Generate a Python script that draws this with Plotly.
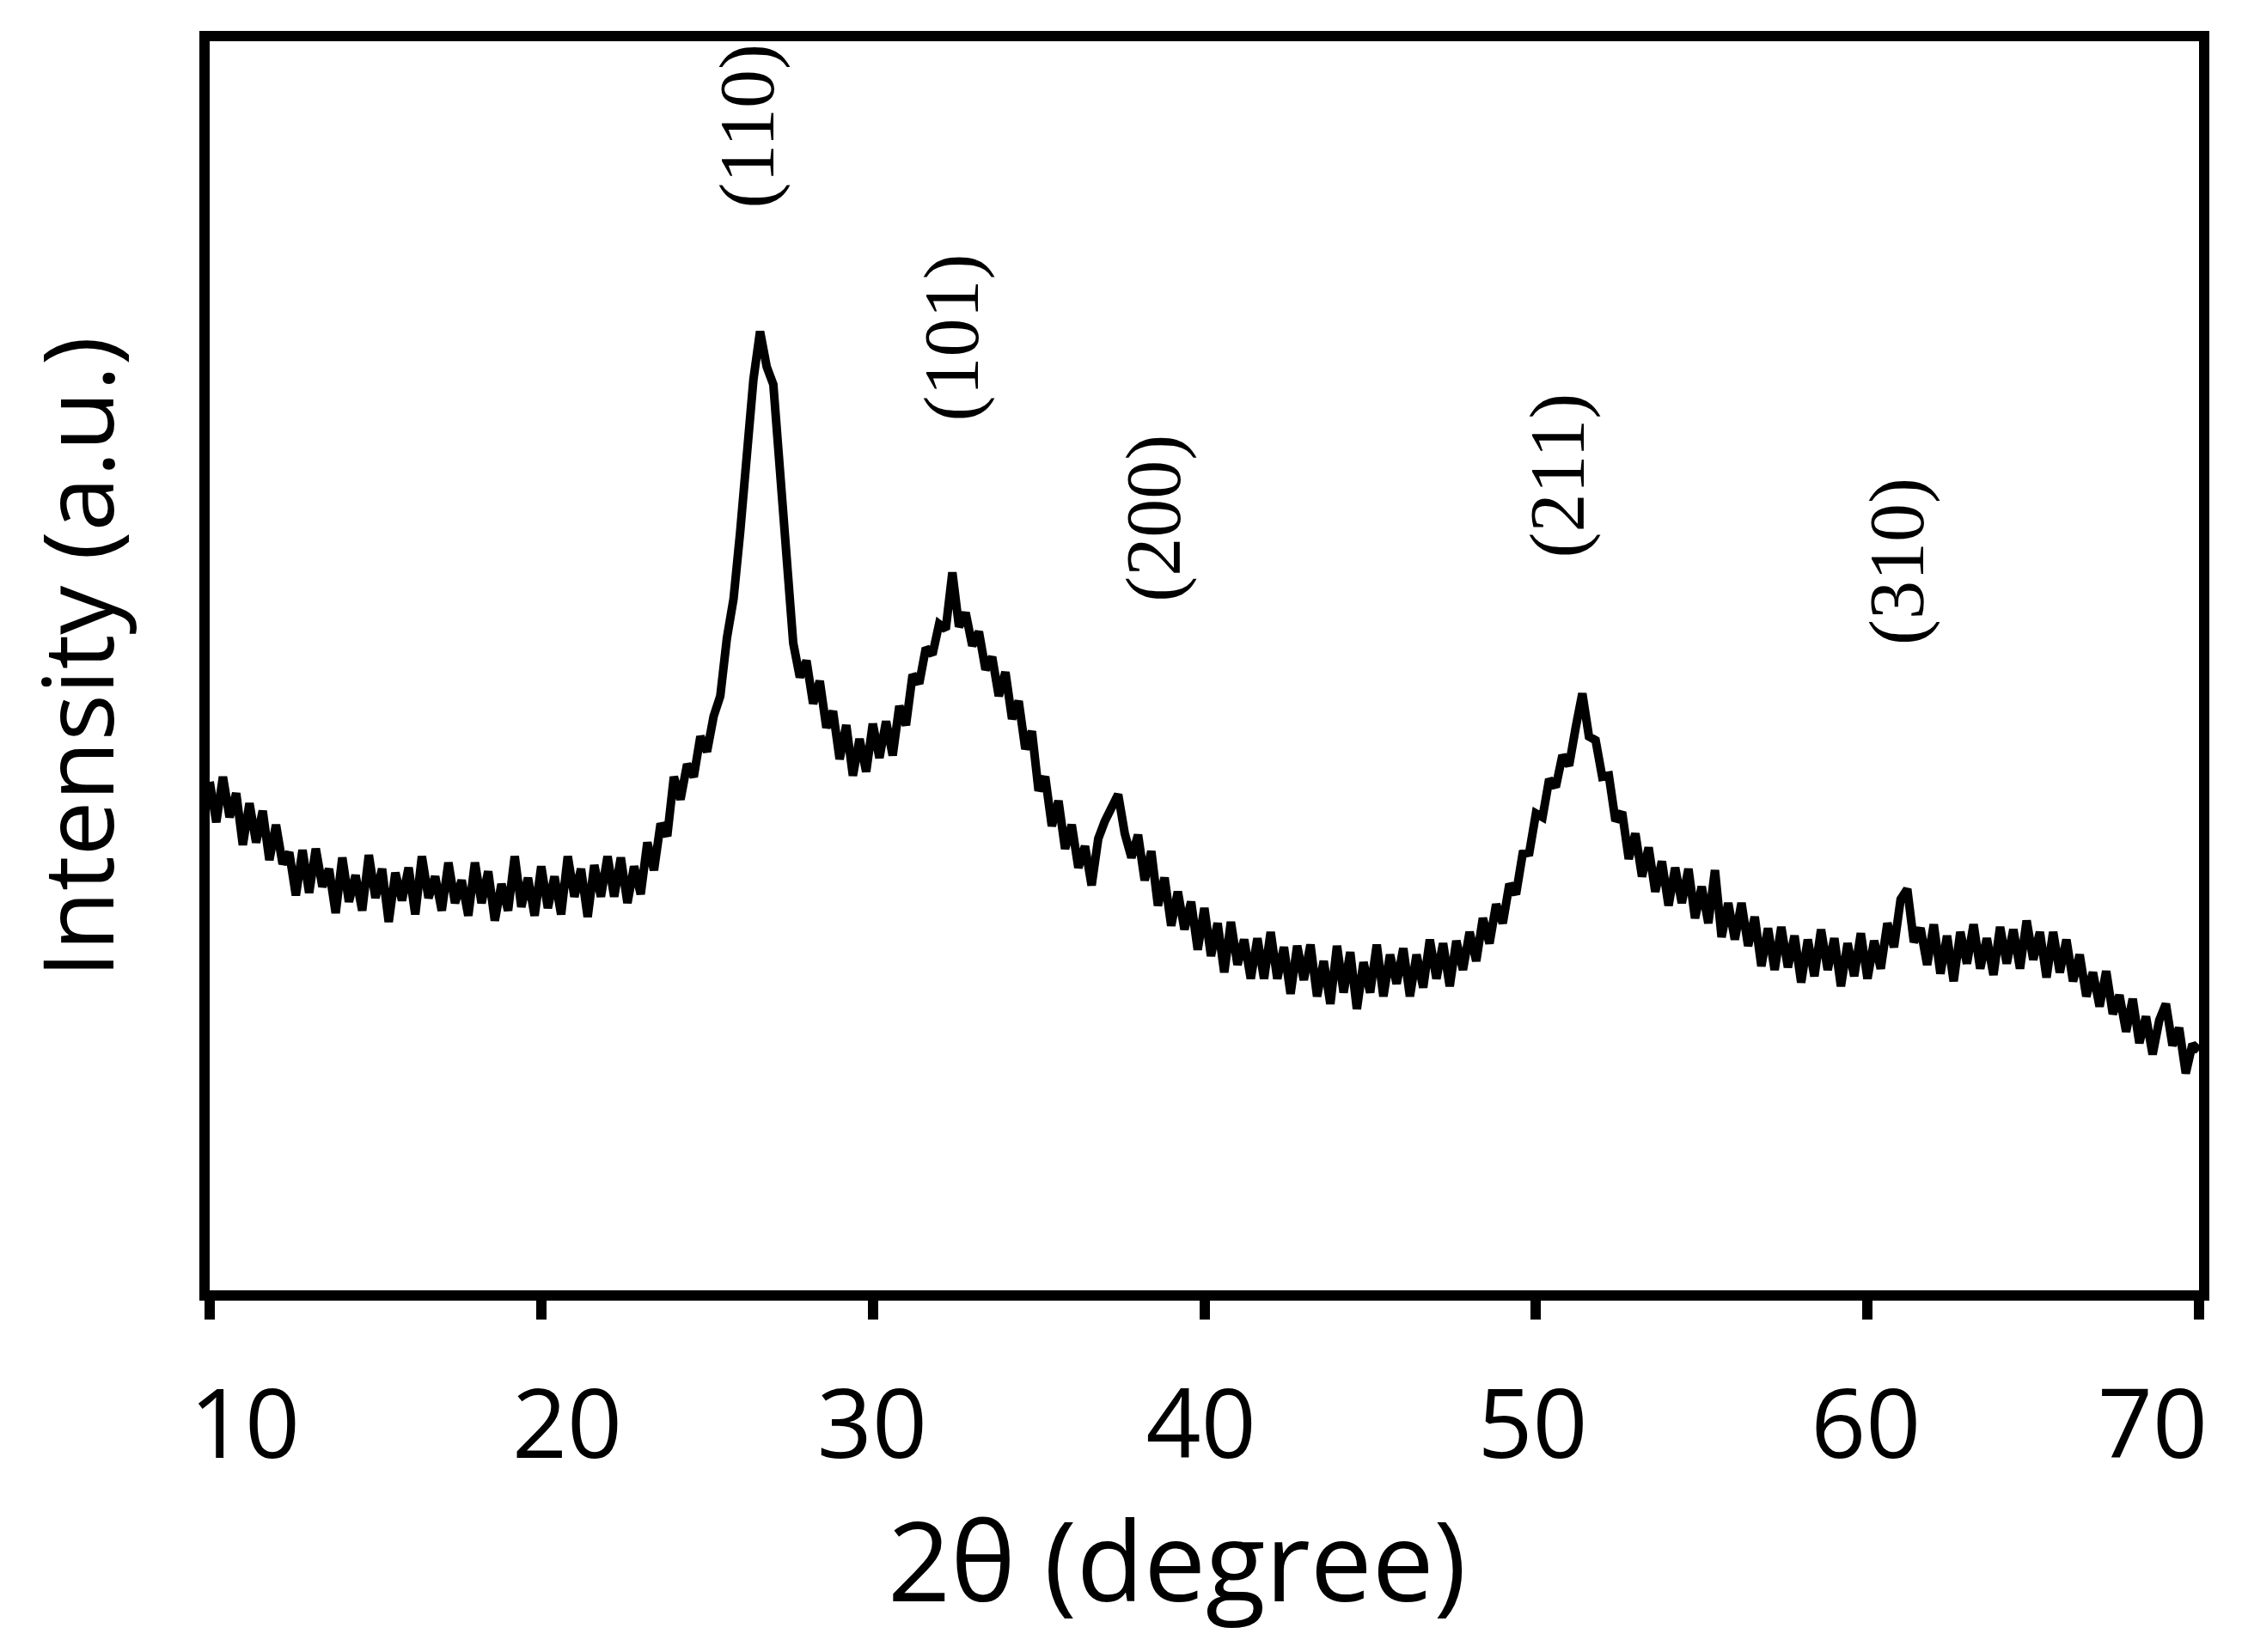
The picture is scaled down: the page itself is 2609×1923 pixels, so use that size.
import plotly.graph_objects as go

# 2-theta positions (degree), step 0.2 from 10 to 70
two_theta = [round(10 + 0.2 * i, 1) for i in range(301)]

# Intensity (a.u.), in groups of 10 points (2 degrees each)
intensity = [
    40.6, 37.4, 41.0, 37.8, 39.7, 35.6, 38.9, 35.8, 38.3, 34.4,   # 10.0-11.8
    37.2, 34.1, 35.0, 31.6, 35.2, 31.8, 35.3, 32.3, 33.7, 30.2,   # 12.0-13.8
    34.6, 31.1, 33.2, 30.4, 34.8, 31.4, 33.7, 29.5, 33.4, 31.2,   # 14.0-15.8
    33.8, 30.1, 34.7, 31.4, 33.1, 30.4, 34.2, 31.0, 32.8, 30.0,   # 16.0-17.8
    34.2, 31.0, 33.5, 29.6, 32.5, 30.4, 34.7, 30.7, 33.0, 30.0,   # 18.0-19.8
    33.9, 30.6, 33.1, 30.1, 34.7, 31.5, 33.7, 29.9, 34.0, 31.5,   # 20.0-21.8
    34.7, 31.5, 34.6, 31.0, 33.9, 31.7, 35.8, 33.6, 37.3, 36.3,   # 22.0-23.8
    41.0, 39.2, 42.0, 41.0, 44.2, 43.0, 45.8, 47.4, 52.0, 55.1,   # 24.0-25.8
    60.4, 66.6, 72.5, 76.3, 73.5, 72.1, 65.1, 57.3, 51.6, 48.9,   # 26.0-27.8
    50.2, 46.8, 48.6, 44.9, 46.2, 42.4, 45.1, 41.1, 44.0, 41.4,   # 28.0-29.8
    45.2, 42.5, 45.4, 42.7, 46.6, 45.1, 49.1, 48.4, 51.2, 50.7,   # 30.0-31.8
    53.1, 52.7, 57.2, 52.9, 54.0, 51.4, 52.5, 49.5, 50.5, 47.4,   # 32.0-33.8
    49.3, 45.6, 47.0, 43.2, 44.6, 39.9, 41.0, 37.1, 39.1, 35.3,   # 34.0-35.8
    37.2, 33.8, 35.5, 32.4, 36.1, 37.5, 38.6, 39.6, 36.5, 34.6,   # 36.0-37.8
    36.4, 32.8, 35.1, 30.8, 33.0, 29.2, 31.9, 28.9, 31.1, 27.3,   # 38.0-39.8
    30.6, 26.8, 29.4, 25.5, 29.5, 26.1, 28.1, 25.0, 28.2, 25.0,   # 40.0-41.8
    28.7, 25.0, 27.5, 23.8, 27.6, 24.9, 27.7, 23.6, 26.4, 23.0,   # 42.0-43.8
    27.6, 23.9, 27.1, 22.6, 26.3, 23.9, 27.7, 23.6, 26.9, 24.6,   # 44.0-45.8
    27.4, 23.6, 26.9, 24.3, 28.1, 25.0, 27.8, 24.4, 28.0, 25.7,   # 46.0-47.8
    28.7, 26.4, 29.8, 27.8, 30.9, 29.4, 32.5, 31.7, 34.9, 35.0,   # 48.0-49.8
    38.1, 37.8, 40.8, 40.2, 42.7, 41.9, 44.9, 47.6, 44.2, 43.9,   # 50.0-51.8
    41.0, 41.1, 37.5, 38.2, 34.5, 36.5, 33.1, 35.4, 31.9, 34.3,   # 52.0-53.8
    30.8, 33.8, 31.0, 33.7, 29.8, 32.3, 29.4, 33.6, 28.3, 31.0,   # 54.0-55.8
    28.1, 31.0, 27.6, 29.9, 26.0, 29.0, 25.7, 29.1, 25.9, 28.4,   # 56.0-57.8
    24.7, 28.1, 25.2, 28.9, 25.7, 28.2, 24.4, 27.8, 25.2, 28.6,   # 58.0-59.8
    25.0, 28.0, 25.8, 29.4, 27.5, 31.3, 32.1, 27.9, 29.0, 26.1,   # 60.0-61.8
    29.3, 25.4, 28.4, 24.8, 28.7, 26.2, 29.3, 25.8, 28.2, 25.3,   # 62.0-63.8
    29.1, 26.2, 28.9, 25.8, 29.6, 26.5, 28.7, 25.1, 28.7, 25.5,   # 64.0-65.8
    28.1, 24.8, 26.9, 23.6, 25.5, 22.8, 25.6, 22.2, 23.7, 20.8,   # 66.0-67.8
    23.4, 19.9, 22.0, 19.0, 21.7, 23.0, 19.7, 21.1, 17.5, 19.8,   # 68.0-69.8
    19.3,                                                         # 70.0
]

# Peak labels (Miller indices) and where they sit
peak_labels = ["(110)", "(101)", "(200)", "(211)", "(310)"]
peak_label_x = [26.23, 32.4, 38.5, 50.67, 60.9]
peak_label_y = [92.6, 75.8, 61.5, 64.9, 58.1]

# x-axis ticks and tick labels
x_ticks = [10, 20, 30, 40, 50, 60, 70]
x_tick_labels = ["10", "20", "30", "40", "50", "60", "70"]
# where the tick labels are drawn (the original pushes the end labels inward)
x_label_pos = [11.06, 20.78, 29.98, 39.9, 49.9, 59.95, 68.6]

x_title = "2θ (degree)"
y_title = "Intensity (a.u.)"

fig = go.Figure()
fig.add_trace(go.Scatter(
    x=two_theta, y=intensity, mode="lines",
    line=dict(color="black", width=10),
    showlegend=False, hoverinfo="skip",
))
# empty trace so the label axis (x2) is drawn
fig.add_trace(go.Scatter(x=[], y=[], xaxis="x2", yaxis="y",
                         showlegend=False, hoverinfo="skip"))

for lab, lx, ly in zip(peak_labels, peak_label_x, peak_label_y):
    fig.add_annotation(
        x=lx, y=ly, xref="x", yref="y", text=lab, showarrow=False,
        textangle=-90, xanchor="center", yanchor="middle",
        font=dict(family="Liberation Serif", size=90, color="black"),
    )

fig.add_annotation(
    x=0.486, y=-0.215, xref="paper", yref="paper", text=x_title,
    showarrow=False, xanchor="center", yanchor="middle",
    font=dict(family="Open Sans", size=128, color="black"),
)
fig.add_annotation(
    x=-0.0674, y=0.507, xref="paper", yref="paper", text=y_title,
    showarrow=False, xanchor="center", yanchor="middle", textangle=-90,
    font=dict(family="Open Sans", size=114, color="black"),
)

fig.update_layout(
    width=2609, height=1923,
    margin=dict(l=236, r=58, t=40, b=429),
    paper_bgcolor="white", plot_bgcolor="white",
    font=dict(family="Open Sans", color="black"),
    xaxis=dict(
        range=[10, 70], tickvals=x_ticks, showticklabels=False,
        showline=True, linecolor="black", linewidth=12, mirror=True,
        ticks="outside", ticklen=22, tickwidth=12, tickcolor="black",
        showgrid=False, zeroline=False,
    ),
    xaxis2=dict(
        overlaying="x", anchor="y", side="bottom", range=[10, 70],
        tickvals=x_label_pos, ticktext=x_tick_labels,
        ticks="", showline=False, showgrid=False, zeroline=False,
        ticklabelstandoff=82,
        tickfont=dict(family="Open Sans", size=112, color="black"),
    ),
    yaxis=dict(
        range=[0.3, 99.3], showline=True, linecolor="black", linewidth=12, mirror=True,
        ticks="", showticklabels=False, showgrid=False, zeroline=False,
    ),
)

fig.write_html("out.html")
